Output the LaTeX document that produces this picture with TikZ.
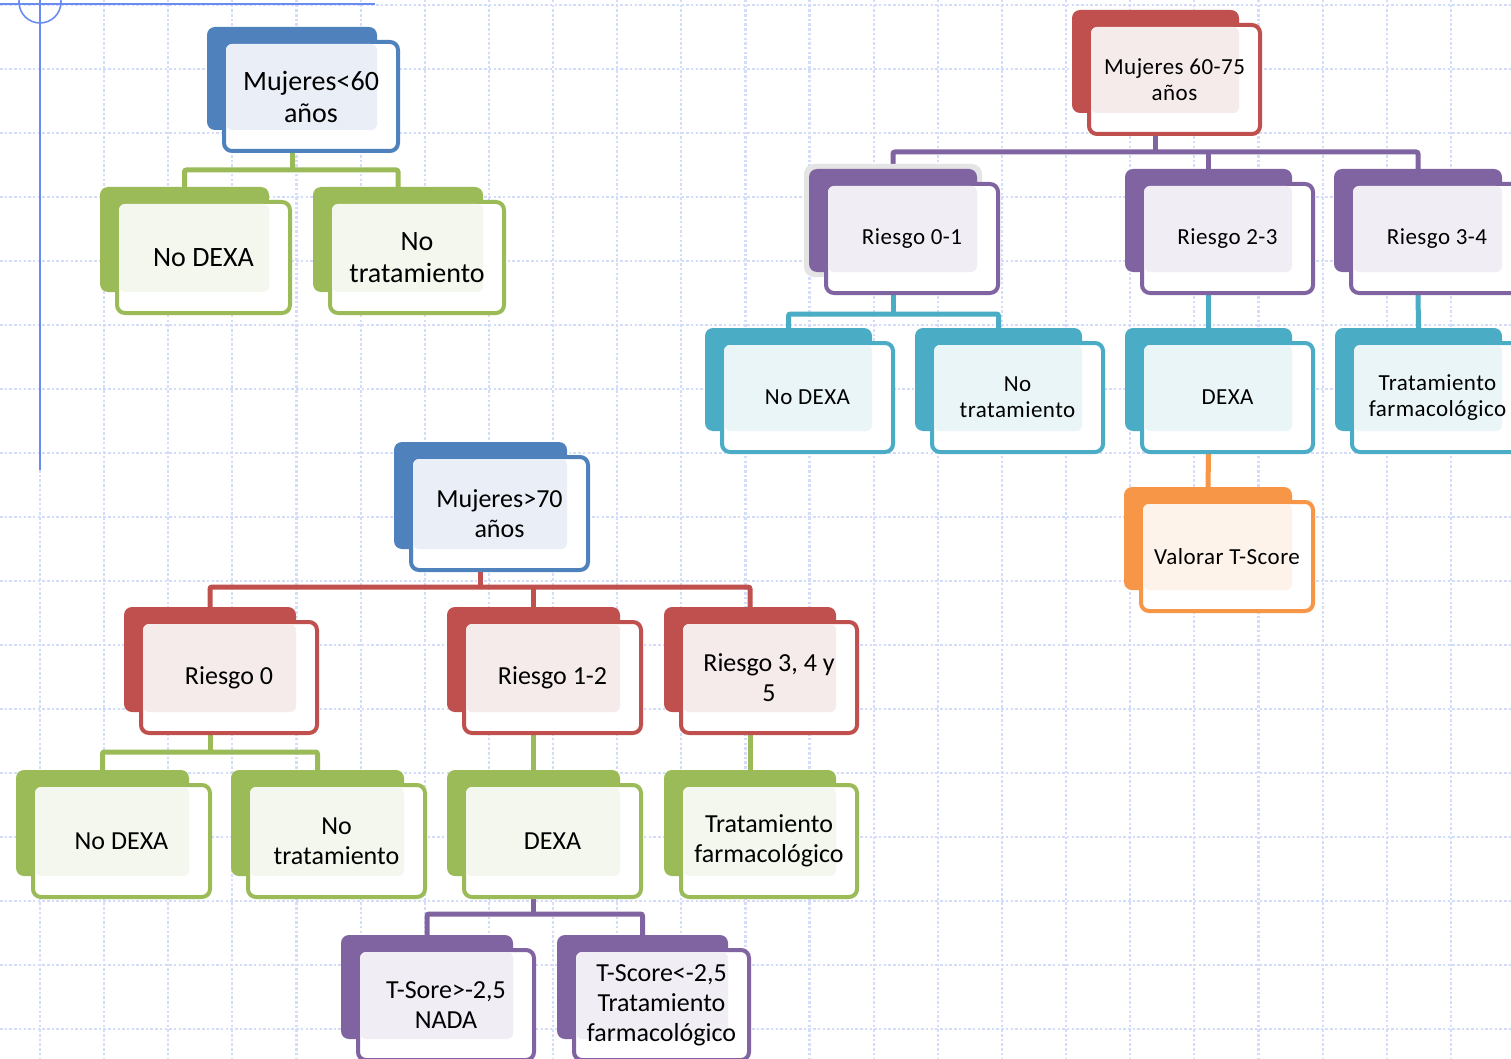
\documentclass[tikz,border=0pt]{standalone}
\usepackage{fontspec}
\setmainfont{Carlito}
\newfontfamily\rfontfam[LetterSpace=2]{Carlito}
\usetikzlibrary{fit,backgrounds}
\definecolor{cblue}{HTML}{4F81BD}\definecolor{tblue}{HTML}{EAEFF7}
\definecolor{cred}{HTML}{C0504D}\definecolor{tred}{HTML}{F6EBEB}
\definecolor{cpurple}{HTML}{8064A2}\definecolor{tpurple}{HTML}{F0EEF4}
\definecolor{cgreen}{HTML}{9BBB59}\definecolor{tgreen}{HTML}{F4F7EE}
\definecolor{ccyan}{HTML}{4BACC6}\definecolor{tcyan}{HTML}{EAF5F8}
\definecolor{corange}{HTML}{F79646}\definecolor{torange}{HTML}{FEF3EA}
\definecolor{gridc}{HTML}{D3DDF9}
\definecolor{axisc}{HTML}{6A8CF0}
\definecolor{haloc}{HTML}{E4E4E4}
\newcommand\tlf{\fontsize{28}{32}\selectfont}
\newcommand\rtf{\rfontfam\fontsize{23}{26}\selectfont}
\newcommand\blf{\fontsize{26}{30}\selectfont}
\tikzset{
  backbox/.style={inner sep=0pt, rounded corners=8pt},
  textbox/.style={inner sep=0pt, align=center, text=black, anchor=center},
  conn/.style={line width=5pt, rounded corners=2pt},
  gridline/.style={draw=gridc, line width=2.2pt, dash pattern=on 2.5pt off 2.2pt},
  axisline/.style={draw=axisc, line width=1.6pt},
}
% name, colour, tint, back x1, y1, x2, y2, font, text
\newcommand\obox[9]{%
  \node[backbox, fill=#2, fit={(#4,#5)(#6,#7)}] (#1B) {};
  \filldraw[fill=white, draw=#2, line width=4pt, rounded corners=8pt] ({#4+17},{#5+15}) rectangle ({#6+21},{#7+21});
  \fill[#3, rounded corners=6pt] ({#4+19},{#5+17}) rectangle (#6,#7);
  \node[textbox, font=#8, minimum width={#6-#4+8}, minimum height={#7-#5+10}] (#1) at ({(#4+#6)/2+19},{(#5+#7)/2+18}) {#9};
}
\begin{document}
\begin{tikzpicture}[x=1pt,y=-1pt]
\useasboundingbox (0,0) rectangle (1511,1059);
\clip (0,0) rectangle (1511,1059);

% ---------- top-left diagram
\obox{m60}{cblue}{tblue}{207}{27}{377}{130}{\tlf}{Mujeres<60\\años}
\obox{tlnd}{cgreen}{tgreen}{100}{187}{269}{292}{\tlf}{No DEXA}
\obox{tlnt}{cgreen}{tgreen}{313}{187}{483}{292}{\tlf}{No\\tratamiento}

% ---------- right diagram
\obox{mid}{cred}{tred}{1072}{10}{1239}{113}{\rtf}{Mujeres 60-75\\años}
\fill[haloc, rounded corners=10pt] (804,164) rectangle (982,277);
\obox{rz}{cpurple}{tpurple}{809}{169}{977}{272}{\rtf}{Riesgo 0-1}
\obox{rd}{cpurple}{tpurple}{1125}{169}{1292}{272}{\rtf}{Riesgo 2-3}
\obox{rt}{cpurple}{tpurple}{1334}{169}{1502}{272}{\rtf}{Riesgo 3-4}
\obox{rnd}{ccyan}{tcyan}{705}{328}{872}{431}{\rtf}{No DEXA}
\obox{rnt}{ccyan}{tcyan}{915}{328}{1082}{431}{\rtf}{No\\tratamiento}
\obox{rdexa}{ccyan}{tcyan}{1125}{328}{1292}{431}{\rtf}{DEXA}
\obox{rtf}{ccyan}{tcyan}{1335}{328}{1502}{431}{\rtf}{Tratamiento\\farmacológico}
\obox{val}{corange}{torange}{1124}{487}{1292}{590}{\rtf}{Valorar T-Score}

% ---------- bottom diagram
\obox{m70}{cblue}{tblue}{394}{442}{567}{549}{\blf}{Mujeres>70\\años}
\obox{rzero}{cred}{tred}{124}{607}{296}{712}{\blf}{Riesgo 0}
\obox{rot}{cred}{tred}{447}{607}{620}{712}{\blf}{Riesgo 1-2}
\obox{rtfv}{cred}{tred}{664}{607}{836}{712}{\blf}{Riesgo 3, 4 y\\5}
\obox{bnd}{cgreen}{tgreen}{16}{770}{189}{876}{\blf}{No DEXA}
\obox{bnt}{cgreen}{tgreen}{231}{770}{404}{876}{\blf}{No\\tratamiento}
\obox{bdexa}{cgreen}{tgreen}{447}{770}{620}{876}{\blf}{DEXA}
\obox{btf}{cgreen}{tgreen}{664}{770}{836}{876}{\blf}{Tratamiento\\farmacológico}
\obox{tsa}{cpurple}{tpurple}{341}{935}{513}{1039}{\blf}{T-Sore>-2,5\\NADA}
\obox{tsb}{cpurple}{tpurple}{557}{935}{728}{1039}{\blf}{T-Score<-2,5\\Tratamiento\\farmacológico}

\begin{scope}[on background layer]
  \clip (0,0) rectangle (1511,1059);
  \fill[white] (0,0) rectangle (1511,1059);
  \foreach \k in {0,...,16} \draw[gridline] (0,{5+64*\k}) -- (1511,{5+64*\k});
  \foreach \k in {0,...,23} \draw[gridline] ({40+64.13*\k},0) -- ({40+64.13*\k},1059);
  \draw[axisline] (40,0) -- (40,470);
  \draw[axisline] (0,4) -- (375,4);
  \draw[axisline] (40,2) circle[radius=21];

  \coordinate (busA) at (0,170);
  \coordinate (busB) at (0,152);
  \coordinate (busC) at (0,314);
  \coordinate (busD) at (0,587);
  \coordinate (busE) at (0,752);
  \coordinate (busF) at (0,914);

  % top-left
  \draw[conn, cgreen] (m60B.center |- m60.south) -- (m60B.center |- busA);
  \draw[conn, cgreen] (tlndB.north) -- (tlndB.north |- busA) -- (tlntB.north |- busA) -- (tlntB.north);

  % right
  \draw[conn, cpurple] (midB.center |- mid.south) -- (midB.center |- busB);
  \draw[conn, cpurple] (rzB.north) -- (rzB.north |- busB) -- (rtB.north |- busB) -- (rtB.north);
  \draw[conn, cpurple] (rdB.north |- busB) -- (rdB.north);
  \draw[conn, ccyan] (rzB.center |- rz.south) -- (rzB.center |- busC);
  \draw[conn, ccyan] (rndB.north) -- (rndB.north |- busC) -- (rntB.north |- busC) -- (rntB.north);
  \draw[conn, ccyan] (rdB.center |- rd.south) -- (rdexaB.north);
  \draw[conn, ccyan] (rtB.center |- rt.south) -- (rtfB.north);
  \draw[conn, corange] (rdexaB.center |- rdexa.south) -- (valB.north);

  % bottom
  \draw[conn, cred] (m70B.center |- m70.south) -- (m70B.center |- busD);
  \draw[conn, cred] (rzeroB.north) -- (rzeroB.north |- busD) -- (rtfvB.north |- busD) -- (rtfvB.north);
  \draw[conn, cred] (rotB.north |- busD) -- (rotB.north);
  \draw[conn, cgreen] (rzeroB.center |- rzero.south) -- (rzeroB.center |- busE);
  \draw[conn, cgreen] (bndB.north) -- (bndB.north |- busE) -- (bntB.north |- busE) -- (bntB.north);
  \draw[conn, cgreen] (rotB.center |- rot.south) -- (bdexaB.north);
  \draw[conn, cgreen] (rtfvB.center |- rtfv.south) -- (btfB.north);
  \draw[conn, cpurple] (bdexaB.center |- bdexa.south) -- (bdexaB.center |- busF);
  \draw[conn, cpurple] (tsaB.north) -- (tsaB.north |- busF) -- (tsbB.north |- busF) -- (tsbB.north);
\end{scope}
\end{tikzpicture}
\end{document}
